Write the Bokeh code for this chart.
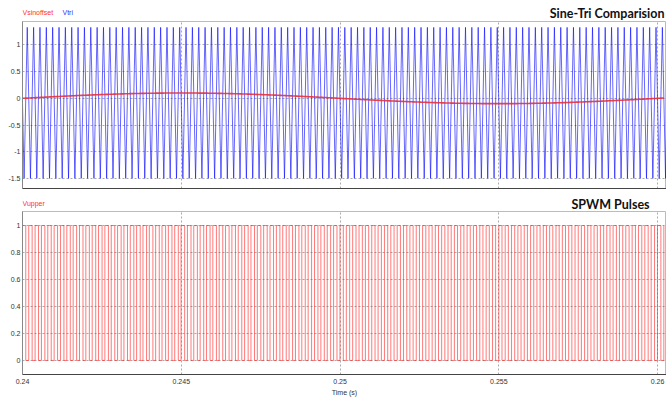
import numpy as np
from bokeh.plotting import figure
from bokeh.layouts import column
from bokeh.models import Range1d, FixedTicker, Label
from bokeh.embed import file_html
from bokeh.resources import INLINE

# ---- values ----
t_start = 0.24
t_end = 0.26
carrier_freq_hz = 5000.0      # ~25 carrier cycles per 5 ms
tri_max = 1.33
tri_min = -1.5
tri_first_trough = 0.24005
sine_amp = 0.1
sine_freq_hz = 50.0
x_ticks = [0.24, 0.245, 0.25, 0.255, 0.26]
x_tick_labels = ["0.24", "0.245", "0.25", "0.255", "0.26"]
top_y_ticks = [-1.5, -1, -0.5, 0, 0.5, 1]
top_y_labels = ["-1.5", "-1", "-0.5", "0", "0.5", "1"]
bot_y_ticks = [0, 0.2, 0.4, 0.6, 0.8, 1]
bot_y_labels = ["0", "0.2", "0.4", "0.6", "0.8", "1"]

# ---- build waveforms ----
half = 0.5 / carrier_freq_hz
k = np.arange(-2, int((t_end - t_start) / half) + 4)
tri_t = tri_first_trough + k * half
tri_v = np.where(k % 2 == 0, tri_min, tri_max)

ts = np.linspace(t_start - 0.0002, t_end + 0.0002, 400001)
sine_v = sine_amp * np.sin(2 * np.pi * sine_freq_hz * (ts - t_start))
tri_s = np.interp(ts, tri_t, tri_v)
pwm = (sine_v > tri_s).astype(float)
chg = np.nonzero(np.diff(pwm))[0] + 1
step_x = np.concatenate([[ts[0]], ts[chg], [ts[-1]]])
step_y = np.concatenate([[pwm[0]], pwm[chg], [pwm[-1]]])

sine_t = np.linspace(t_start - 0.0002, t_end + 0.0002, 600)
sine_c = sine_amp * np.sin(2 * np.pi * sine_freq_hz * (sine_t - t_start))

X_END = 0.26028
SMALL = "Liberation Sans"
W = 666


def header(height):
    h = figure(width=W, height=height, min_border=0, x_range=Range1d(0, W),
               y_range=Range1d(0, height), x_axis_location=None, y_axis_location=None,
               output_backend="svg", toolbar_location=None)
    h.grid.visible = False
    h.outline_line_color = None
    return h


def style(p, yt, yl):
    p.outline_line_color = "#bbbbbb"
    p.background_fill_color = "white"
    p.border_fill_color = "white"
    p.yaxis.ticker = FixedTicker(ticks=yt)
    p.yaxis.major_label_overrides = {v: s for v, s in zip(yt, yl)}
    p.yaxis.major_label_text_font = SMALL
    p.yaxis.major_label_text_font_size = "7px"
    p.yaxis.major_label_text_color = "#333333"
    p.yaxis.major_tick_line_color = None
    p.yaxis.minor_tick_line_color = None
    p.yaxis.major_tick_out = 0
    p.yaxis.major_tick_in = 0
    p.yaxis.minor_tick_out = 0
    p.yaxis.major_label_standoff = 2
    p.yaxis.axis_line_color = "#888888"
    p.ygrid.ticker = FixedTicker(ticks=yt)
    p.ygrid.grid_line_color = "#aaaaaa"
    p.ygrid.grid_line_dash = "2 2"
    p.xgrid.ticker = FixedTicker(ticks=x_ticks[1:])
    p.xgrid.grid_line_color = "#aaaaaa"
    p.xgrid.grid_line_dash = "2 2"
    p.xaxis.axis_line_color = "#444444"
    p.xaxis.major_tick_line_color = None
    p.xaxis.minor_tick_line_color = None
    p.xaxis.major_tick_out = 0
    p.xaxis.major_tick_in = 0
    p.xaxis.minor_tick_out = 0


# header of the top panel (its frame is aligned with the plot frames, which start at x=22)
h1 = header(21)
h1.add_layout(Label(x=0, y=9, x_units="screen", y_units="screen", text="Vsinoffset",
                    text_font=SMALL, text_font_size="7px", text_color="#ff3030",
                    text_baseline="middle"))
h1.add_layout(Label(x=40, y=9, x_units="screen", y_units="screen", text="Vtri",
                    text_font=SMALL, text_font_size="7px", text_color="#3030ff",
                    text_baseline="middle"))
h1.add_layout(Label(x=642, y=8, x_units="screen", y_units="screen",
                    text="Sine-Tri Comparision", text_font="Lato", text_font_style="bold",
                    text_font_size="12.5px", text_color="#111111",
                    text_align="right", text_baseline="middle"))

top = figure(width=W, frame_height=167, min_border_left=22, min_border_right=0,
             min_border_top=0, min_border_bottom=8,
             x_range=Range1d(t_start, X_END), y_range=Range1d(-1.69, 1.44),
             output_backend="svg", toolbar_location=None)
style(top, top_y_ticks, top_y_labels)
top.xaxis.ticker = FixedTicker(ticks=[])
top.xaxis.major_label_text_font_size = "1px"
top.line(tri_t, tri_v, line_color="#0000ff", line_width=1, line_alpha=0.6)
top.line(sine_t, sine_c, line_color="#e8303c", line_width=1.6, line_alpha=0.9)

# header of the bottom panel
h2 = header(15)
h2.add_layout(Label(x=0, y=8, x_units="screen", y_units="screen", text="Vupper",
                    text_font=SMALL, text_font_size="7px", text_color="#ff3030",
                    text_baseline="middle"))
h2.add_layout(Label(x=588, y=7, x_units="screen", y_units="screen",
                    text="SPWM Pulses", text_font="Lato", text_font_style="bold",
                    text_font_size="12.5px", text_color="#111111",
                    text_align="center", text_baseline="middle"))

bot = figure(width=W, frame_height=163, min_border_left=22, min_border_right=0,
             min_border_top=0, min_border_bottom=25,
             x_range=Range1d(t_start, X_END), y_range=Range1d(-0.104, 1.104),
             output_backend="svg", toolbar_location=None)
style(bot, bot_y_ticks, bot_y_labels)
bot.xaxis.ticker = FixedTicker(ticks=x_ticks)
bot.xaxis.major_label_overrides = {v: s for v, s in zip(x_ticks, x_tick_labels)}
bot.xaxis.major_label_text_font = SMALL
bot.xaxis.major_label_text_font_size = "7px"
bot.xaxis.major_label_text_color = "#333333"
bot.xaxis.major_label_standoff = 4
bot.xaxis.axis_label = "Time (s)"
bot.xaxis.axis_label_text_font = SMALL
bot.xaxis.axis_label_text_font_size = "7px"
bot.xaxis.axis_label_text_font_style = "normal"
bot.xaxis.axis_label_text_color = "#333333"
bot.xaxis.axis_label_standoff = 2
bot.step(step_x, step_y, mode="after", line_color="#ff2020", line_width=1, line_alpha=0.6)

layout = column(h1, top, h2, bot, spacing=0)
open("out.html", "w").write(file_html(layout, INLINE))
